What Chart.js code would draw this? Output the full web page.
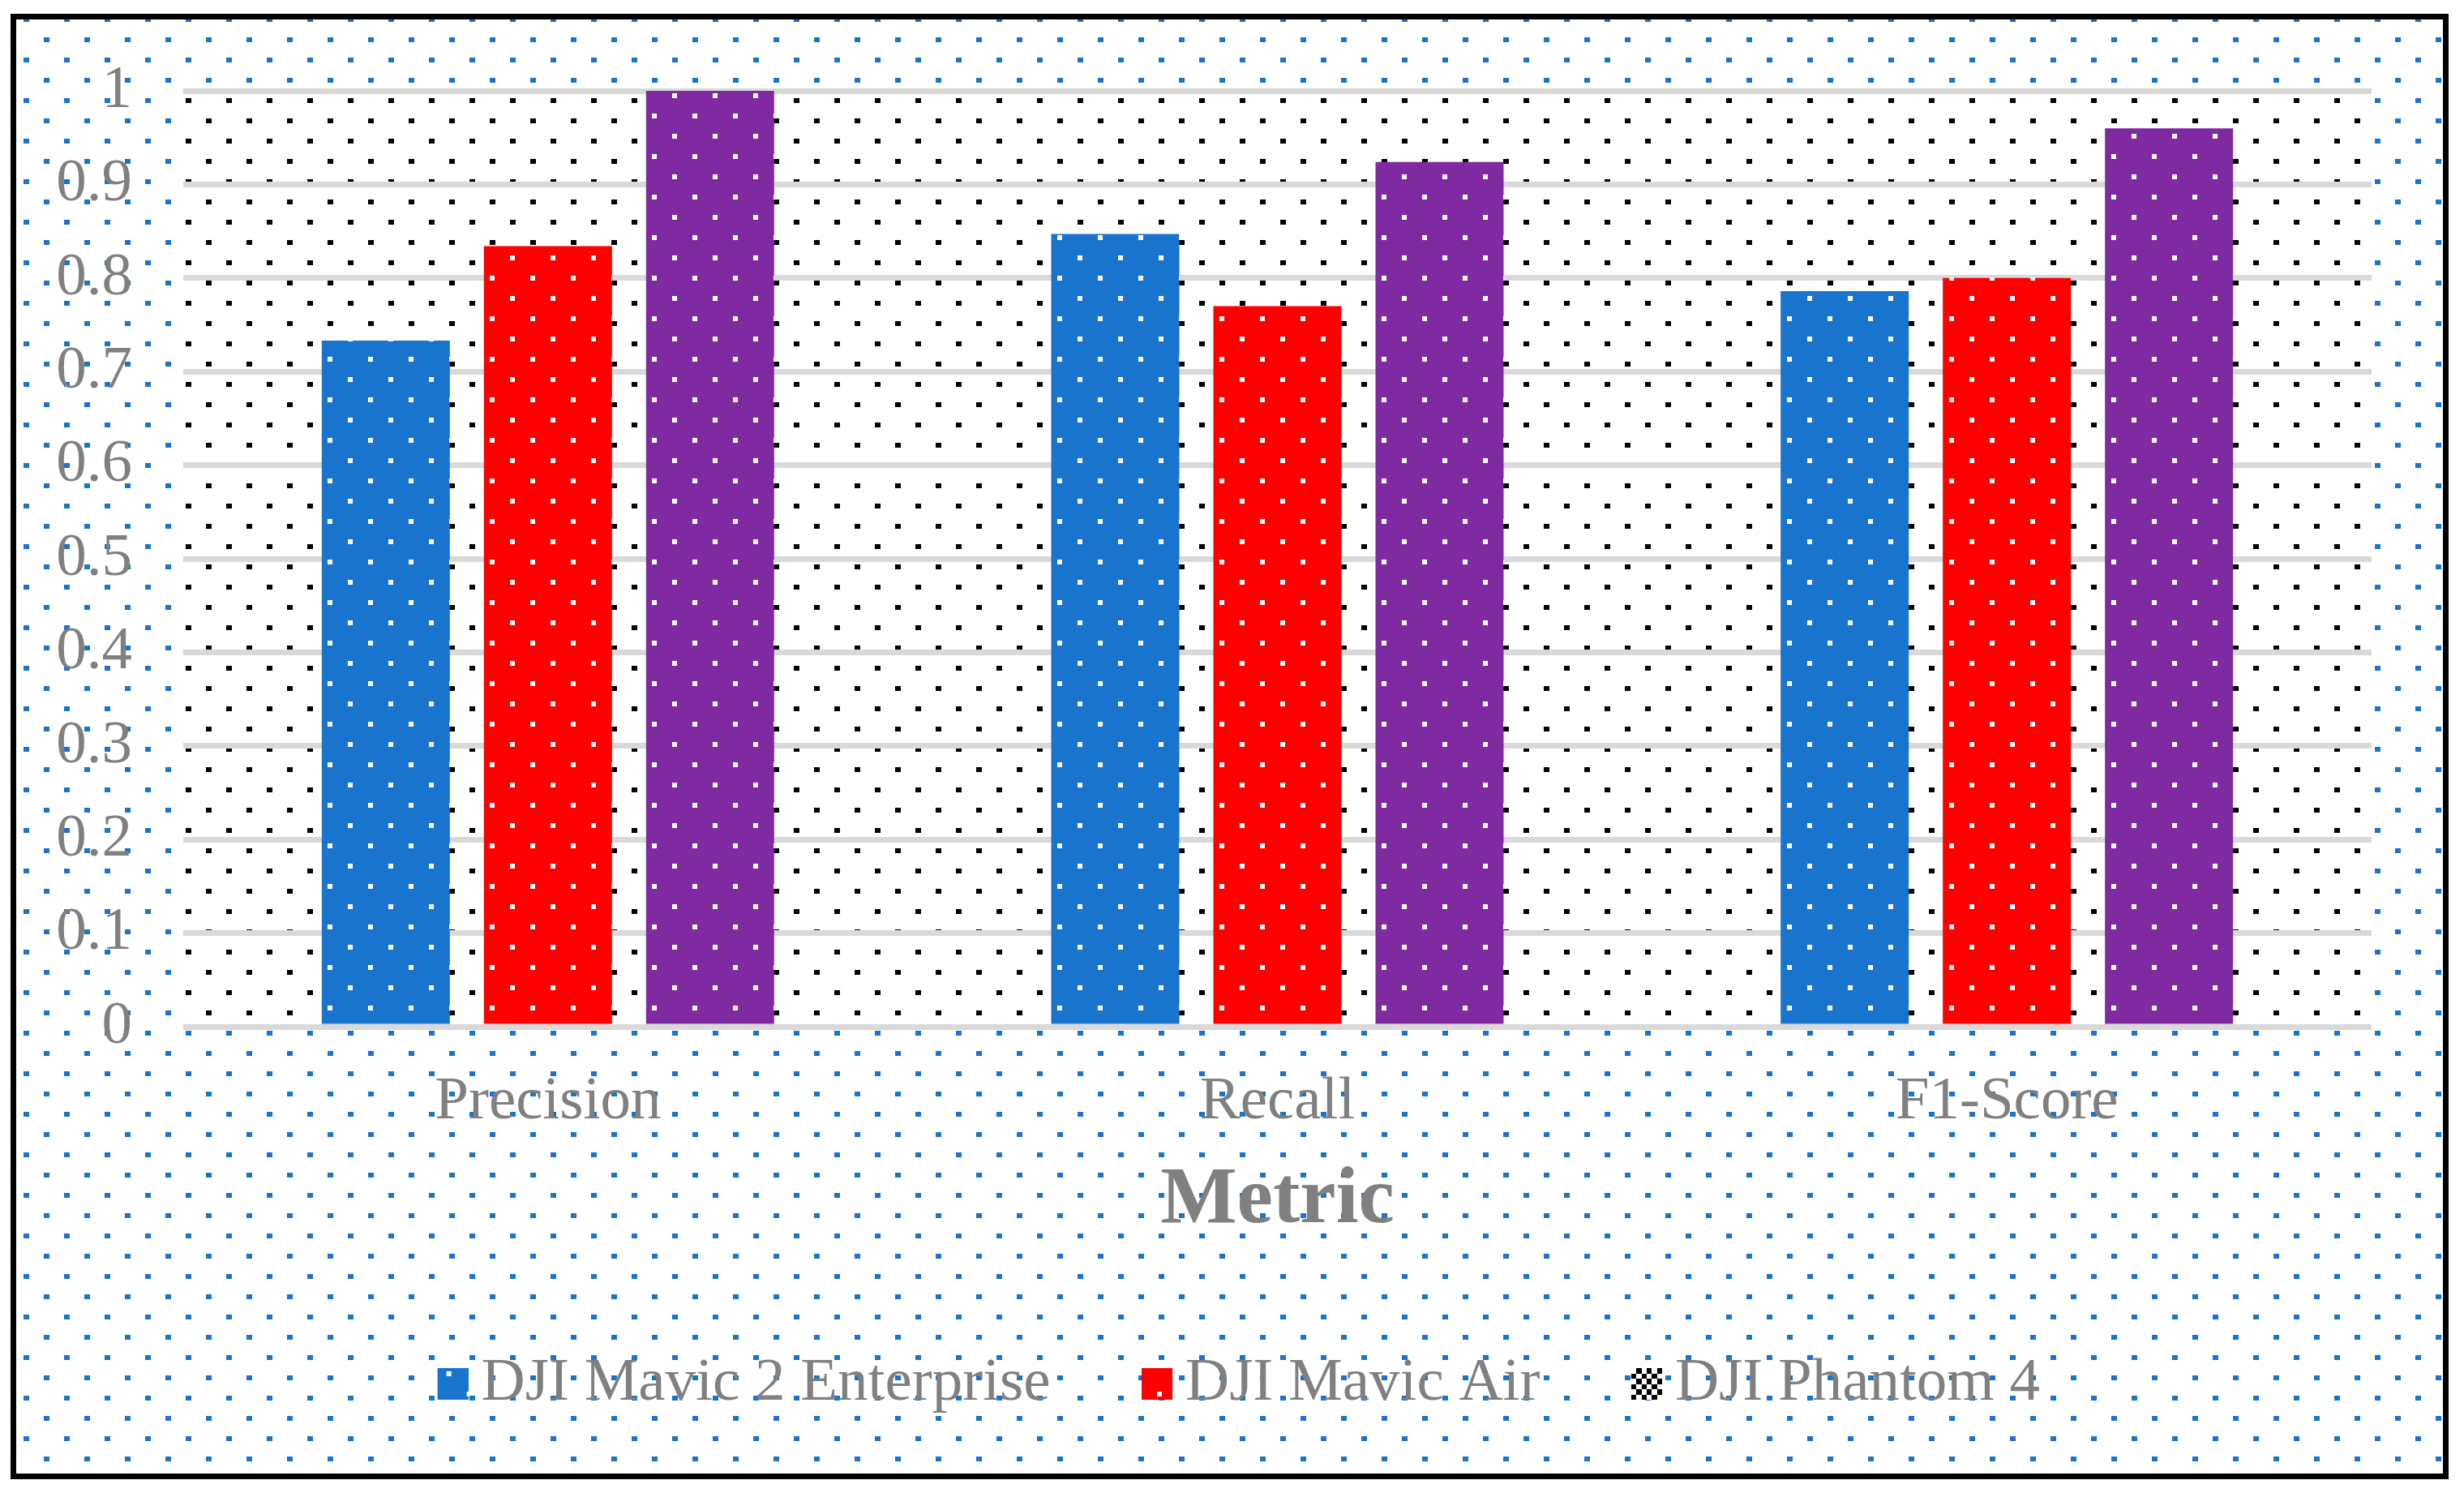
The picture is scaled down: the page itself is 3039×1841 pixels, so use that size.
<!DOCTYPE html>
<html><head><meta charset="utf-8">
<script src="https://cdn.jsdelivr.net/npm/chart.js@4.4.0/dist/chart.umd.min.js"></script>
<style>html,body{margin:0;padding:0;background:#fff;} #c{display:block;}</style>
</head><body>
<canvas id="c" width="3039" height="1841"></canvas>
<script>
const categories = ['Precision', 'Recall', 'F1-Score'];
const seriesNames = ['DJI Mavic 2 Enterprise', 'DJI Mavic Air', 'DJI Phantom 4'];
const mavic2Enterprise = [0.733, 0.847, 0.786];
const mavicAir = [0.834, 0.770, 0.800];
const phantom4 = [1.0, 0.924, 0.960];
const yTickLabels = ['0', '0.1', '0.2', '0.3', '0.4', '0.5', '0.6', '0.7', '0.8', '0.9', '1'];
const xAxisTitle = 'Metric';

const W = 3039, H = 1841;
const FONT = '"Liberation Serif", "Times New Roman", serif';
const GRAY = '#808080';
const BLUE = '#1874CD', RED = '#FF0000', PURPLE = '#7F2AA0';

function makeTile(bg, dotColor, dots, dw, dh) {
  const t = document.createElement('canvas'); t.width = 50; t.height = 50;
  const c = t.getContext('2d');
  if (bg) { c.fillStyle = bg; c.fillRect(0, 0, 50, 50); }
  c.fillStyle = dotColor;
  dots.forEach(([x, y]) => {
    for (let ox = -50; ox <= 50; ox += 50) for (let oy = -50; oy <= 50; oy += 50) c.fillRect(x + ox, y + oy, dw, dh);
  });
  return t;
}
const bgDots = [[29, 21], [4, 46]];
const barDots = [[29, 15], [4, 40]];

const canvas = document.getElementById('c');
const ctx = canvas.getContext('2d');
const bluePat = ctx.createPattern(makeTile(null, BLUE, bgDots, 7, 6), 'repeat');
const blackPat = ctx.createPattern(makeTile(null, '#000', bgDots, 7, 6), 'repeat');
const barPat = col => ctx.createPattern(makeTile(col, '#fff', barDots, 6, 6), 'repeat');

function legendImg(fill, ox, oy) {
  const cv = document.createElement('canvas'); cv.width = 44; cv.height = 39;
  const c = cv.getContext('2d');
  if (fill === 'checker') {
    c.fillStyle = '#fff'; c.fillRect(6, 0, 38, 39);
    c.fillStyle = '#000';
    for (let i = 0; i < 6; i++) for (let j = 0; j < 6; j++) {
      if ((i + j) % 2 === 1) {
        const x0 = 6 + Math.round(i * 38 / 6), x1 = 6 + Math.round((i + 1) * 38 / 6);
        const y0 = Math.round(j * 39 / 6), y1 = Math.round((j + 1) * 39 / 6);
        c.fillRect(x0, y0, x1 - x0, y1 - y0);
      }
    }
  } else {
    const p = c.createPattern(makeTile(fill, '#fff', barDots, 6, 6), 'repeat');
    p.setTransform(new DOMMatrix([1, 0, 0, 1, -ox, -oy]));
    c.fillStyle = p; c.fillRect(6, 0, 38, 39);
  }
  return cv;
}
const legendImgs = [legendImg(BLUE, 537, 1686), legendImg(RED, 1404, 1686), legendImg('checker', 0, 0)];

const bgPlugin = {
  id: 'bgPlugin',
  beforeDraw(chart) {
    const c = chart.ctx, a = chart.chartArea;
    c.save();
    c.fillStyle = '#fff'; c.fillRect(0, 0, W, H);
    c.fillStyle = bluePat; c.fillRect(20, 24, 2993, 1793);
    c.fillStyle = '#fff'; c.fillRect(a.left, a.top, a.right - a.left, a.bottom - a.top);
    c.fillStyle = blackPat; c.fillRect(a.left, a.top, a.right - a.left, a.bottom - a.top);
    c.restore();
  },
  afterDraw(chart) {
    const c = chart.ctx;
    c.save();
    c.strokeStyle = '#000'; c.lineWidth = 7;
    c.strokeRect(16.5, 20.5, 3000, 1800);
    c.restore();
  }
};

new Chart(ctx, {
  type: 'bar',
  data: {
    labels: categories,
    datasets: [
      { label: seriesNames[0], data: mavic2Enterprise, backgroundColor: barPat(BLUE), borderWidth: 0 },
      { label: seriesNames[1], data: mavicAir, backgroundColor: barPat(RED), borderWidth: 0 },
      { label: seriesNames[2], data: phantom4, backgroundColor: barPat(PURPLE), borderWidth: 0 }
    ]
  },
  options: {
    responsive: false,
    animation: false,
    events: [],
    layout: { padding: { left: 40, right: 8, top: 112, bottom: 87 } },
    datasets: { bar: { categoryPercentage: 0.6669, barPercentage: 0.79 } },
    scales: {
      x: {
        grid: { display: false },
        border: { display: false },
        ticks: { font: { family: FONT, size: 75 }, color: GRAY, padding: 40, maxRotation: 0, autoSkip: false },
        title: { display: true, text: xAxisTitle, color: GRAY, font: { family: FONT, size: 100, weight: 'bold' }, padding: { top: 0, bottom: 0 } },
        afterFit(s) { s.height = 275; }
      },
      y: {
        min: 0, max: 1,
        grid: { color: '#D9D9D9', lineWidth: 7, drawTicks: false },
        border: { display: false },
        ticks: { stepSize: 0.1, font: { family: FONT, size: 75 }, color: GRAY, padding: 63, callback: (v, i) => yTickLabels[i] },
        afterFit(s) { s.width = 186; }
      },
      yRight: {
        type: 'linear',
        position: 'right',
        display: true,
        grid: { display: false, drawTicks: false },
        border: { display: false },
        ticks: { display: false },
        afterFit(s) { s.width = 106; }
      }
    },
    plugins: {
      tooltip: { enabled: false },
      legend: {
        position: 'bottom',
        labels: {
          usePointStyle: true,
          pointStyleWidth: 1,
          padding: 128,
          font: { family: FONT, size: 75 },
          color: GRAY,
          generateLabels(chart) {
            return chart.data.datasets.map((ds, i) => ({
              text: ds.label, fillStyle: 'transparent', strokeStyle: 'transparent', lineWidth: 0,
              pointStyle: legendImgs[i], hidden: false, datasetIndex: i, fontColor: GRAY
            }));
          }
        }
      }
    }
  },
  plugins: [bgPlugin]
});
</script>
</body></html>
